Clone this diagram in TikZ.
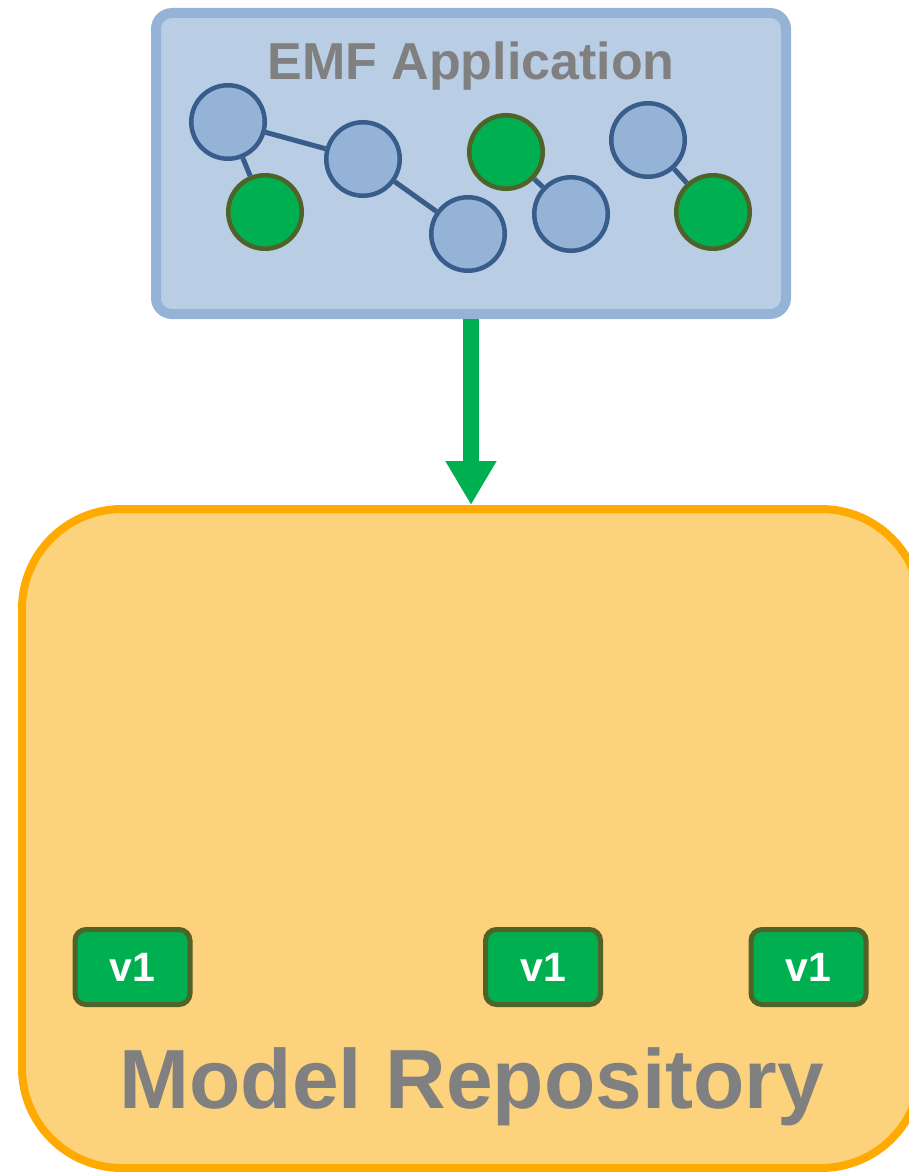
\documentclass[tikz,border=0pt]{standalone}
\usepackage{fontspec}
\setmainfont{Liberation Sans}
\usetikzlibrary{arrows.meta}
\definecolor{appfill}{HTML}{B9CDE5}
\definecolor{appline}{HTML}{95B3D7}
\definecolor{objfill}{HTML}{95B3D7}
\definecolor{objline}{HTML}{385D8A}
\definecolor{grfill}{HTML}{00B050}
\definecolor{grline}{HTML}{4F6228}
\definecolor{repofill}{HTML}{FDD27C}
\definecolor{repoline}{HTML}{FFAA00}
\definecolor{txtgray}{HTML}{808080}
\tikzset{bo/.style={circle, draw=objline, fill=objfill, line width=4.5pt, minimum size=73.5pt, inner sep=0pt}}
\tikzset{go/.style={bo, draw=grline, fill=grfill}}
\tikzset{ln/.style={draw=objline, line width=5pt}}
\tikzset{vb/.style={draw=grline, fill=grfill, line width=5pt, rounded corners=11pt, minimum width=115pt, minimum height=75pt, inner sep=0pt, text=white, font=\bfseries\fontsize{41}{41}\selectfont}}
\tikzset{tl/.style={text=txtgray, anchor=base, inner sep=0pt}}

\begin{document}
\begin{tikzpicture}[x=1pt, y=-1pt]
  \useasboundingbox (0,0) rectangle (909,1172);
  \clip (0,0) rectangle (909,1172);
  % application box
  \node [draw=appline, fill=appfill, line width=10pt, rounded corners=16pt, minimum width=630pt, minimum height=301pt] (app) at (471,163.5) {};
  \node [tl, font=\bfseries\fontsize{52}{52}\selectfont] (T) at (471,80) {EMF Application};
  % objects
  \node [bo] (A) at (228,122) {};
  \node [go] (B) at (265,212) {}
    edge [ln] (A);
  \node [bo] (C) at (363,159) {}
    edge [ln] (A);
  \node [bo] (D) at (468,234) {}
    edge [ln] (C);
  \node [go] (E) at (506,152) {};
  \node [bo] (F) at (571,214) {}
    edge [ln] (E);
  \node [bo] (G) at (648,140) {};
  \node [go] (H) at (713,212) {}
    edge [ln] (G);
  % repository
  \node [draw=repoline, fill=repofill, line width=8pt, rounded corners=100pt, minimum width=899pt, minimum height=659pt] (repo) at (471.5,838.5) {};
  \draw [grfill, line width=16pt, -{Triangle[width=48pt, length=44pt]}] (app.south) -- (app.south |- repo.north);
  \node [vb] (V1) at (132.5,967) {v1};
  \node [vb] (V2) at (543,967) {v1};
  \node [vb] (V3) at (808.5,967) {v1};
  \node [tl, font=\bfseries\fontsize{84}{84}\selectfont] (R) at (472,1108) {Model Repository};
\end{tikzpicture}
\end{document}
